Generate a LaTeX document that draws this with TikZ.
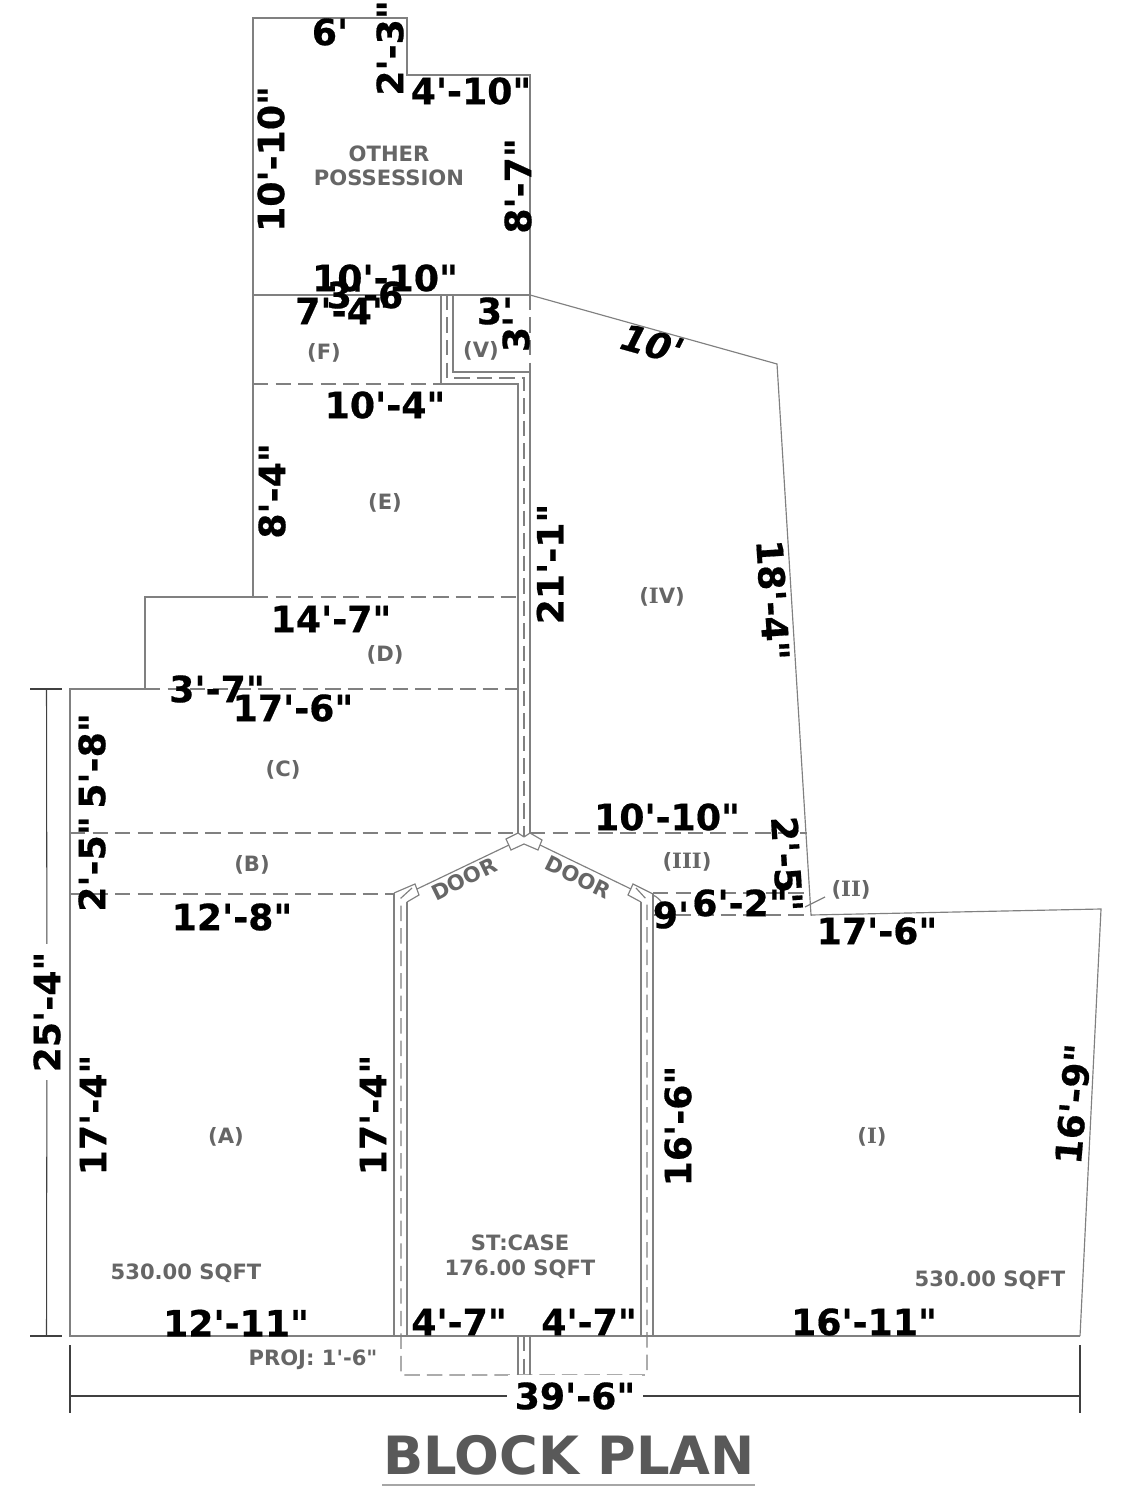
\documentclass[tikz,border=0pt]{standalone}
\usepackage{fontspec}
\newfontfamily\planfont{DejaVu Sans}
\newfontfamily\planserif{DejaVu Serif}
\newfontfamily\dimfont[FakeBold=0.5]{DejaVu Sans Bold}
\newfontfamily\dimslant[FakeBold=0.5,FakeSlant=0.2]{DejaVu Sans Bold}
\newcommand{\romI}{{\planserif I}}
\definecolor{wallgray}{HTML}{808080}
\definecolor{textgray}{HTML}{666666}
\tikzset{
  wall/.style={draw=wallgray,line width=0.33pt},
  hidden/.style={draw=wallgray,line width=0.33pt,dash pattern=on 4.4pt off 2pt},
  dimline/.style={draw=black!75,line width=0.3pt},
  dimtext/.style={font=\dimfont\fontsize{10.3}{12}\selectfont,text=black,inner sep=0pt},
  roomtext/.style={font=\planfont\bfseries\fontsize{6}{7}\selectfont,text=textgray,inner sep=0pt},
}
\begin{document}
\begin{tikzpicture}[x=0.01cm,y=-0.01cm]
      \useasboundingbox (0,0) rectangle (1124,1486);
      % other possession and left boundary
      \draw[wall] (253,18)--(407,18)--(407,75)--(530,75)--(530,295)--(253,295)--cycle;
      \draw[wall] (253,295)--(253,597)--(145,597)--(145,689)--(70,689)--(70,1336)--(1080,1336);
      % right boundary
      \draw[wall] (530,295)--(777,364)--(811,915)--(1101,909)--(1080,1336);
      \draw[wall] (805,907)--(825,897);
      \draw[wall] (653,895)to[bend left=15](662,903);
      % room divisions
      \draw[hidden] (253,384)--(441,384);
      \draw[hidden] (253,597)--(518,597);
      \draw[hidden] (145,689)--(518,689);
      \draw[hidden] (70,833)--(518,833);
      \draw[hidden] (530,833)--(807,833);
      \draw[hidden] (70,894)--(394,894);
      \draw[hidden] (653,893)--(809,893);
      \draw[hidden] (653,915)--(811,915);
      \draw[hidden] (530,295)--(530,372);
      % upper passage
      \draw[wall] (441,295)--(441,384)--(518,384)--(518,833);
      \draw[hidden] (447,295)--(447,378)--(524,378)--(524,837);
      \draw[wall] (453,295)--(453,372)--(530,372)--(530,833);
      % door jambs
      \draw[wall] (518,833)--(506,839)--(511,850)--(524,844)--(538,850)--(542,840)--(530,833);
      \draw[wall] (524,837)--(518,833);
      \draw[wall] (524,837)--(530,833);
      \draw[wall] (394,893)--(415,884)--(419,895)--(407,902);
      \draw[wall] (653,894)--(633,884)--(628,895)--(641,902);
      % door lines
      \draw[wall] (509,845)--(417,889);
      \draw[wall] (540,845)--(631,889);
      % lower walls
      \draw[wall] (394,893)--(394,1336);
      \draw[hidden] (412,888)--(401,898)--(401,1375)--(647,1375)--(647,900)--(636,888);
      \draw[wall] (407,902)--(407,1336);
      \draw[wall] (641,902)--(641,1336);
      \draw[wall] (653,894)--(653,1336);
      % stub below the stair
      \draw[wall] (518,1336)--(518,1375);
      \draw[hidden] (524,1336)--(524,1375);
      \draw[wall] (530,1336)--(530,1375);

      % overall dimensions
      \node[dimtext,rotate=90,fill=white,inner sep=2pt] (dimHeight) at (47,1012) {25'-4"};
      \node[dimtext,fill=white,inner sep=2pt] (dimWidth) at (575,1396) {39'-6"};
      \coordinate (heightTop) at (46.5,689);
      \coordinate (heightBot) at (46.5,1336);
      \coordinate (widthLeft) at (70,1396);
      \coordinate (widthRight) at (1080,1396);
      \draw[dimline] (heightTop)--(dimHeight);
      \draw[dimline] (dimHeight)--(heightBot);
      \draw[dimline] (widthLeft)--(dimWidth);
      \draw[dimline] (dimWidth)--(widthRight);
      \draw[dimline] (30,689)--(62,689);
      \draw[dimline] (30,1336)--(62,1336);
      \draw[dimline] (70,1345)--(70,1413);
      \draw[dimline] (1080,1345)--(1080,1413);

      % dimensions
      \node[dimtext] (dimA) at (330,32) {6'};
      \node[dimtext,rotate=90] (dimB) at (390,48) {2'-3"};
      \node[dimtext] (dimC) at (471,91) {4'-10"};
      \node[dimtext,rotate=90] (dimD) at (271,159) {10'-10"};
      \node[dimtext,rotate=90] (dimE) at (518,186) {8'-7"};
      \node[dimtext] (dimF) at (385,278) {10'-10"};
      \node[dimtext] (dimG) at (365,295) {3'-6};
      \node[dimtext] (dimH) at (343,311) {7'-4"};
      \node[dimtext] (dimI) at (495,311) {3'};
      \node[dimtext,rotate=90] (dimJ) at (516,334) {3'};
      \node[dimtext,rotate=-15.5,font=\dimslant\fontsize{10.3}{12}\selectfont] (dimK) at (649,343) {10'};
      \node[dimtext] (dimL) at (385,405) {10'-4"};
      \node[dimtext,rotate=90] (dimM) at (272,491) {8'-4"};
      \node[dimtext,rotate=-86.5] (dimN) at (773,600) {18'-4"};
      \node[dimtext,rotate=90] (dimO) at (550,564) {21'-1"};
      \node[dimtext] (dimP) at (331,619) {14'-7"};
      \node[dimtext] (dimQ) at (217,689) {3'-7"};
      \node[dimtext] (dimR) at (293,708) {17'-6"};
      \node[dimtext,rotate=90] (dimS) at (92,761) {5'-8"};
      \node[dimtext,rotate=90] (dimT) at (92,864) {2'-5"};
      \node[dimtext] (dimU) at (667,817) {10'-10"};
      \node[dimtext,rotate=-86.5] (dimV) at (787,864) {2'-5"};
      \node[dimtext] (dimW) at (671,915) {9'};
      \node[dimtext] (dimX) at (740,903) {6'-2"};
      \node[dimtext] (dimY) at (877,931) {17'-6"};
      \node[dimtext] (dimZ) at (232,917) {12'-8"};
      \node[dimtext,rotate=90] (dimAa) at (93,1115) {17'-4"};
      \node[dimtext,rotate=90] (dimAb) at (373,1115) {17'-4"};
      \node[dimtext,rotate=90] (dimAc) at (678,1126) {16'-6"};
      \node[dimtext,rotate=85] (dimAd) at (1073,1104) {16'-9"};
      \node[dimtext] (dimAe) at (236,1323) {12'-11"};
      \node[dimtext] (dimAf) at (459,1322) {4'-7"};
      \node[dimtext] (dimAg) at (589,1322) {4'-7"};
      \node[dimtext] (dimAh) at (864,1322) {16'-11"};

      % room names
      \node[roomtext,align=center] (other) at (389,166) {OTHER\\POSSESSION};
      \node[roomtext] (roomF) at (324,353) {(F)};
      \node[roomtext] (roomV) at (481,351) {(V)};
      \node[roomtext] (roomE) at (385,503) {(E)};
      \node[roomtext] (roomIV) at (662,597) {(\romI V)};
      \node[roomtext] (roomD) at (385,655) {(D)};
      \node[roomtext] (roomC) at (283,770) {(C)};
      \node[roomtext] (roomIII) at (687,862) {(\romI\romI\romI)};
      \node[roomtext] (roomB) at (252,865) {(B)};
      \node[roomtext] (roomII) at (851,890) {(\romI\romI)};
      \node[roomtext] (roomA) at (226,1137) {(A)};
      \node[roomtext] (roomI) at (872,1137) {(\romI)};
      \node[roomtext,rotate=26] (doorL) at (464,879) {DOOR};
      \node[roomtext,rotate=-26] (doorR) at (578,877) {DOOR};
      \node[roomtext] (areaL) at (186,1273) {530.00 SQFT};
      \node[roomtext,align=center] (stair) at (520,1257) {ST:CASE\\176.00 SQFT};
      \node[roomtext] (areaR) at (990,1280) {530.00 SQFT};
      \node[roomtext] (proj) at (313,1360) {PROJ: 1'-6"};

      % title
      \node[inner sep=0pt,text=black!65,font=\planfont\bfseries\fontsize{15}{18}\selectfont] (title) at (569,1455) {BLOCK PLAN};
      \coordinate (ruleLeft) at (382,1485);
      \coordinate (ruleRight) at (755,1485);
      \draw[draw=black!35,line width=0.4pt] (ruleLeft)--(ruleRight);
\end{tikzpicture}
\end{document}
